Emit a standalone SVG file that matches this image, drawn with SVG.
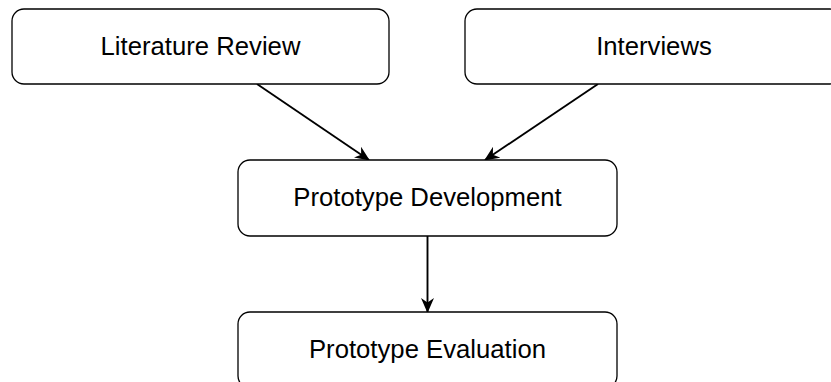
<svg xmlns="http://www.w3.org/2000/svg" width="831" height="382" viewBox="0 0 831 382">
  <style>
    .box { fill: #ffffff; stroke: #000000; stroke-width: 1.3; }
    .label { font-family: "Liberation Sans", Arial, Helvetica, sans-serif; font-size: 25.7px; fill: #000000; text-anchor: middle; }
    .edge { fill: none; stroke: #000000; stroke-width: 1.9; marker-end: url(#arrow); }
  </style>
  <defs>
    <marker id="arrow" markerUnits="userSpaceOnUse" markerWidth="15" markerHeight="13" viewBox="0 0 15 13" refX="14" refY="6.5" orient="auto">
      <path d="M0,0 L15,6.5 L0,13 L4.5,6.5 Z" fill="#000000"/>
    </marker>
  </defs>
  <rect width="831" height="382" fill="#ffffff"/>

  <g id="connectors">
    <line class="edge" x1="257" y1="84" x2="369" y2="160"/>
    <line class="edge" x1="598" y1="84" x2="485" y2="160"/>
    <line class="edge" x1="427.5" y1="236" x2="427.5" y2="312"/>
  </g>

  <g id="literature-review">
    <rect class="box" x="12" y="9" width="377" height="75" rx="12" ry="12"/>
    <text class="label" x="200.5" y="55">Literature Review</text>
  </g>

  <g id="interviews">
    <rect class="box" x="465" y="9" width="377" height="75" rx="12" ry="12"/>
    <text class="label" x="654" y="55">Interviews</text>
  </g>

  <g id="prototype-development">
    <rect class="box" x="238" y="160" width="379" height="76" rx="12" ry="12"/>
    <text class="label" x="427.5" y="206">Prototype Development</text>
  </g>

  <g id="prototype-evaluation">
    <rect class="box" x="238" y="312" width="379" height="76" rx="12" ry="12"/>
    <text class="label" x="427.5" y="358">Prototype Evaluation</text>
  </g>
</svg>
